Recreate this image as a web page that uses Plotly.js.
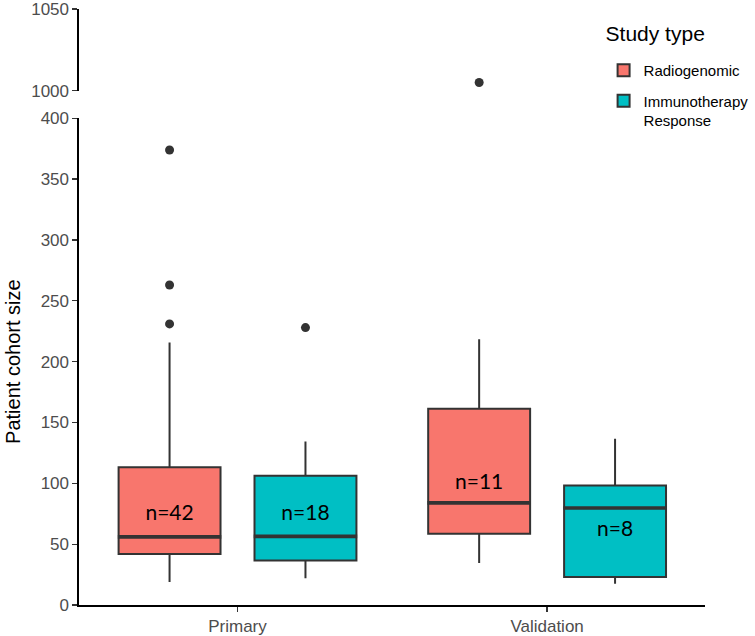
<!DOCTYPE html>
<html>
<head>
<meta charset="utf-8">
<script src="https://cdn.plot.ly/plotly-3.0.1.min.js"></script>
<style>html,body{margin:0;padding:0;background:#fff;}#chart{width:755px;height:636px;}</style>
</head>
<body>
<div id="chart"></div>
<script>
// ---- data ----
const categories = ['Primary', 'Validation'];
const studyTypes = ['Radiogenomic', 'Immunotherapy<br>Response'];

// Radiogenomic box statistics (per category)
const radLowerFence = [19, 34.5];
const radQ1 = [42, 58.6];
const radMedian = [56, 84];
const radQ3 = [113.3, 161.2];
const radUpperFence = [215.7, 218.5];
const radOutliers = [[374, 263, 231], [1005]];

// Immunotherapy Response box statistics (per category)
const immLowerFence = [22, 17.5];
const immQ1 = [36.6, 23];
const immMedian = [56.4, 79.7];
const immQ3 = [106.2, 98.3];
const immUpperFence = [134.4, 136.6];
const immOutliers = [[228], []];

// sample size labels and their heights
const radN = ['n=42', 'n=11'];
const immN = ['n=18', 'n=8'];
const radLabelY = [74, 100];
const immLabelY = [74, 61.3];

// y-axis ticks
const lowerTicks = [0, 50, 100, 150, 200, 250, 300, 350, 400];
const upperTicks = [1000, 1050];

// ---- styling ----
const radColor = '#F8766D';
const immColor = '#00BFC4';
const edge = '#333333';
const medianHalfThickness = 0.9; // in data units, styling of the heavier median bar

function boxTrace(name, color, lf, q1, med, q3, uf, pts, yaxis, showlegend, og) {
  return {
    type: 'box', name: name, x: categories, y: pts,
    lowerfence: lf, q1: q1, median: med, q3: q3, upperfence: uf,
    boxpoints: 'outliers', jitter: 0, pointpos: 0,
    fillcolor: color, line: {color: edge, width: 2}, whiskerwidth: 0,
    marker: {color: edge, size: 9, outliercolor: edge, line: {width: 0}},
    yaxis: yaxis, xaxis: 'x', showlegend: showlegend,
    offsetgroup: og, alignmentgroup: 'g', legendgroup: og, hoverinfo: 'skip'
  };
}
// heavier median bar (ggplot draws the median thicker than the box outline)
function medianTrace(med, og) {
  const lo = med.map(v => v - medianHalfThickness);
  const hi = med.map(v => v + medianHalfThickness);
  return {
    type: 'box', x: categories,
    lowerfence: lo, q1: lo, median: med, q3: hi, upperfence: hi,
    boxpoints: false, fillcolor: edge, line: {color: edge, width: 1.5}, whiskerwidth: 0,
    xaxis: 'x', yaxis: 'y', showlegend: false,
    offsetgroup: og, alignmentgroup: 'g', hoverinfo: 'skip'
  };
}
function labelTrace(text, ys, og) {
  return {
    type: 'scatter', mode: 'text', x: categories, y: ys, text: text,
    textposition: 'middle center',
    textfont: {family: 'Lato, Liberation Sans, sans-serif', size: 21, color: '#000'},
    offsetgroup: og, alignmentgroup: 'g', showlegend: false, hoverinfo: 'skip',
    xaxis: 'x', yaxis: 'y'
  };
}

const data = [
  boxTrace(studyTypes[0], radColor, radLowerFence, radQ1, radMedian, radQ3, radUpperFence, radOutliers, 'y', true, 'rad'),
  boxTrace(studyTypes[1], immColor, immLowerFence, immQ1, immMedian, immQ3, immUpperFence, immOutliers, 'y', true, 'imm'),
  boxTrace(studyTypes[0], radColor, radLowerFence, radQ1, radMedian, radQ3, radUpperFence, radOutliers, 'y2', false, 'rad'),
  boxTrace(studyTypes[1], immColor, immLowerFence, immQ1, immMedian, immQ3, immUpperFence, immOutliers, 'y2', false, 'imm'),
  medianTrace(radMedian, 'rad'),
  medianTrace(immMedian, 'imm'),
  labelTrace(radN, radLabelY, 'rad'),
  labelTrace(immN, immLabelY, 'imm')
];

const axisCommon = {
  showline: true, linecolor: '#000', linewidth: 1.6,
  ticks: 'outside', ticklen: 5, tickwidth: 1.3, tickcolor: '#333',
  tickfont: {family: 'Liberation Sans, Arial, sans-serif', size: 17, color: '#4D4D4D'},
  ticklabeloverflow: 'allow',
  showgrid: false, zeroline: false, fixedrange: true
};

const layout = {
  width: 755, height: 636,
  margin: {l: 79, r: 50, t: 9, b: 31, autoexpand: false},
  paper_bgcolor: '#fff', plot_bgcolor: '#fff',
  font: {family: 'Liberation Sans, Arial, sans-serif'},
  boxmode: 'group', boxgap: 0.122, boxgroupgap: 0.25,
  scattermode: 'group', scattergap: 0.122,
  xaxis: Object.assign({}, axisCommon, {
    type: 'category', categoryorder: 'array', categoryarray: categories,
    range: [-0.512, 1.51], anchor: 'y'
  }),
  yaxis: Object.assign({}, axisCommon, {
    domain: [0, 0.8166], range: [0, 400], tickvals: lowerTicks, anchor: 'x',
    title: {text: 'Patient cohort size', font: {size: 20, color: '#000'}, standoff: 14}
  }),
  yaxis2: Object.assign({}, axisCommon, {
    domain: [0.863, 1], range: [1000, 1050], tickvals: upperTicks, anchor: 'x'
  }),
  legend: {
    x: 0.838, y: 0.99, xanchor: 'left', yanchor: 'top',
    bgcolor: 'rgba(255,255,255,0)', valign: 'top',
    font: {size: 15, color: '#000'},
    title: {text: '<sup>Study type</sup>', font: {size: 30, color: '#000'}},
    tracegroupgap: 8
  },
  showlegend: true
};

Plotly.newPlot('chart', data, layout, {staticPlot: true, displayModeBar: false});
</script>
</body>
</html>
